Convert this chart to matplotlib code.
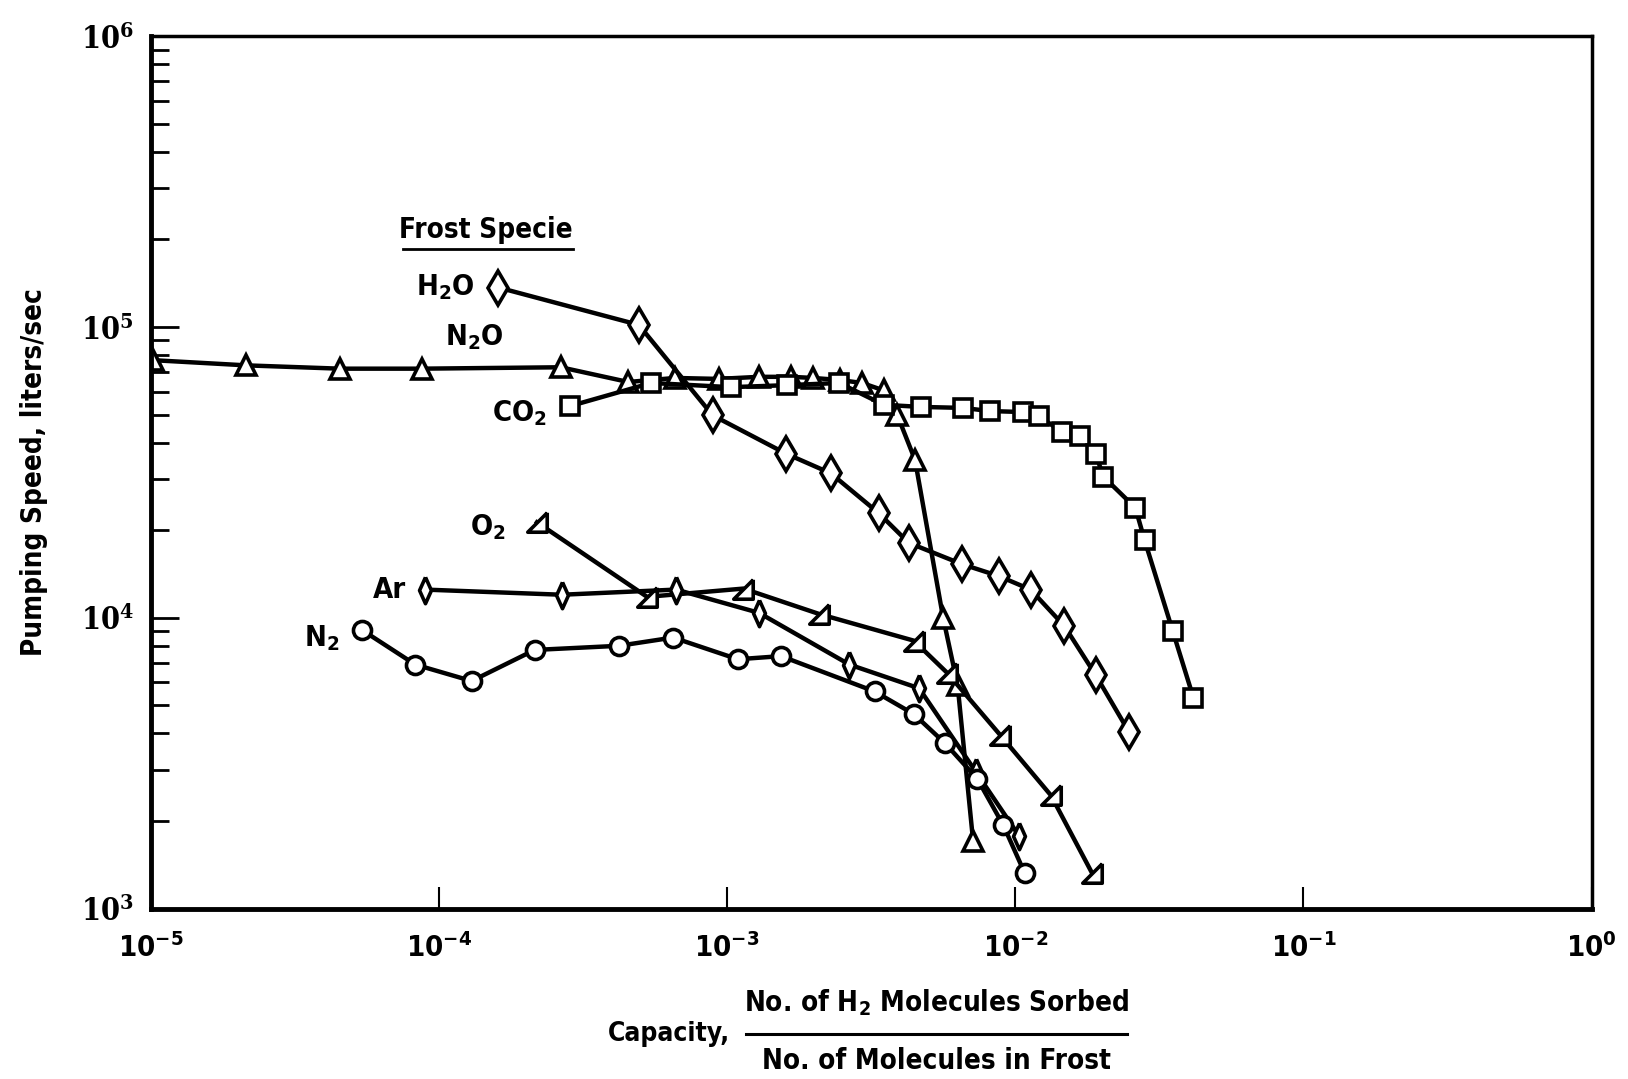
import matplotlib
matplotlib.use("Agg")
import matplotlib.pyplot as plt
from matplotlib.ticker import LogLocator, NullFormatter, FixedLocator, FixedFormatter

plt.rcParams['font.family'] = ['DejaVu Sans']
plt.rcParams['font.stretch'] = 'condensed'
plt.rcParams['font.weight'] = 'bold'
plt.rcParams['mathtext.default'] = 'regular'

# capacity (x) and pumping speed in liters/sec (y)
n2o_x = [1.02e-5, 2.15e-5, 4.53e-5, 8.72e-5, 2.65e-4, 4.54e-4, 6.6e-4, 9.35e-4, 1.29e-3,
         1.67e-3, 1.99e-3, 2.47e-3, 2.94e-3, 3.5e-3, 3.9e-3, 4.49e-3, 5.62e-3, 6.31e-3, 7.14e-3]
n2o_y = [76900, 73800, 71900, 71900, 72700, 64700, 66800, 66300, 67400,
         67400, 66800, 65700, 64200, 60500, 49700, 34900, 10000, 5860, 1710]

co2_x = [2.86e-4, 5.46e-4, 1.03e-3, 1.62e-3, 2.45e-3, 3.5e-3, 4.72e-3, 6.58e-3, 8.16e-3, 1.06e-2,
         1.21e-2, 1.45e-2, 1.68e-2, 1.9e-2, 2.02e-2, 2.61e-2, 2.81e-2, 3.52e-2, 4.15e-2]
co2_y = [53500, 64200, 62100, 63100, 64200, 54000, 53100, 52700, 51400, 51000,
         49300, 43600, 42200, 36700, 30600, 23900, 18500, 8990, 5310]

h2o_x = [1.61e-4, 4.94e-4, 8.91e-4, 1.60e-3, 2.29e-3, 3.36e-3, 4.27e-3, 6.52e-3, 8.79e-3,
         1.13e-2, 1.48e-2, 1.9e-2, 2.48e-2]
h2o_y = [136700, 101700, 49700, 36700, 31400, 22900, 18100, 15300, 13900,
         12500, 9370, 6360, 4050]

o2_x = [2.19e-4, 5.28e-4, 1.14e-3, 2.09e-3, 4.45e-3, 5.8e-3, 8.87e-3, 1.33e-2, 1.85e-2]
o2_y = [21300, 11800, 12600, 10300, 8340, 6470, 3950, 2450, 1320]

ar_x = [8.94e-5, 2.67e-4, 6.66e-4, 1.29e-3, 2.66e-3, 4.64e-3, 7.3e-3, 1.03e-2]
ar_y = [12500, 12000, 12500, 10400, 6900, 5720, 2950, 1780]

n2_x = [5.43e-5, 8.29e-5, 1.3e-4, 2.15e-4, 4.22e-4, 6.5e-4, 1.09e-3, 1.54e-3, 3.25e-3,
        4.45e-3, 5.71e-3, 7.39e-3, 9.1e-3, 1.08e-2]
n2_y = [9060, 6900, 6060, 7750, 8010, 8550, 7200, 7380, 5580,
        4660, 3700, 2790, 1930, 1320]

x_ticks = [1e-5, 1e-4, 1e-3, 1e-2, 1e-1, 1e0]
x_labels = ['$10^{-5}$', '$10^{-4}$', '$10^{-3}$', '$10^{-2}$', '$10^{-1}$', '$10^{0}$']
y_ticks = [1e3, 1e4, 1e5, 1e6]
y_labels = ['$10^{3}$', '$10^{4}$', '$10^{5}$', '$10^{6}$']

o2_marker = [(1, 1), (1, -1), (-1, -1), (1, 1)]
ar_marker = [(0, 1), (0.45, 0), (0, -1), (-0.45, 0), (0, 1)]

fig = plt.figure(figsize=(16.28, 10.79), dpi=100)
ax = fig.add_axes([0.0925, 0.158, 0.8852, 0.8084])

style = dict(color='black', lw=3.2, mfc='white', mec='black', mew=2.6)
ax.plot(n2o_x, n2o_y, marker='^', ms=15, **style)
ax.plot(co2_x, co2_y, marker='s', ms=13, **style)
ax.plot(h2o_x, h2o_y, marker='d', ms=17, **style)
ax.plot(o2_x, o2_y, marker=o2_marker, ms=14, **style)
ax.plot(ar_x, ar_y, marker=ar_marker, ms=19, **style)
ax.plot(n2_x, n2_y, marker='o', ms=13, **style)

ax.set_xscale('log')
ax.set_yscale('log')
ax.set_xlim(1e-5, 1e0)
ax.set_ylim(1e3, 1e6)

ax.xaxis.set_major_locator(FixedLocator(x_ticks))
ax.xaxis.set_major_formatter(FixedFormatter(x_labels))
ax.xaxis.set_minor_locator(FixedLocator([]))
ax.yaxis.set_major_locator(FixedLocator(y_ticks))
ax.yaxis.set_major_formatter(FixedFormatter(y_labels))
ax.yaxis.set_minor_locator(LogLocator(base=10, subs=range(2, 10)))
ax.yaxis.set_minor_formatter(NullFormatter())

ax.tick_params(axis='x', which='major', direction='in', length=16, width=1.5,
               labelsize=21, pad=18)
ax.tick_params(axis='y', which='major', direction='in', length=20, width=2,
               labelsize=22, pad=12)
ax.tick_params(axis='y', which='minor', direction='in', length=13, width=2)
for s in ax.spines.values():
    s.set_linewidth(2.5)
ax.spines['left'].set_linewidth(3.5)
ax.spines['bottom'].set_linewidth(3.5)
for lab in ax.get_yticklabels():
    lab.set_fontweight('bold')
    lab.set_family(['DejaVu Serif'])

ax.set_ylabel('Pumping Speed, liters/sec', fontsize=20, fontweight='bold', labelpad=24)

# species labels
lab_kw = dict(fontsize=21, ha='center', va='center')
ax.text(1.46e-4, 2.15e5, 'Frost Specie', fontsize=20, ha='center', va='center')
ax.plot([7.5e-5, 2.93e-4], [1.85e5, 1.85e5], color='black', lw=2, clip_on=False)
ax.text(1.05e-4, 1.37e5, 'H$_2$O', **lab_kw)
ax.text(1.33e-4, 0.92e5, 'N$_2$O', **lab_kw)
ax.text(1.9e-4, 0.505e5, 'CO$_2$', **lab_kw)
ax.text(1.48e-4, 2.05e4, 'O$_2$', **lab_kw)
ax.text(6.75e-5, 1.25e4, 'Ar', **lab_kw)
ax.text(3.94e-5, 8.5e3, 'N$_2$', **lab_kw)

# x label as a fraction
fig.text(0.411, 0.042, 'Capacity,', fontsize=19, ha='center', va='center')
fig.text(0.575, 0.071, 'No. of H$_2$ Molecules Sorbed', fontsize=20, ha='center', va='center')
fig.text(0.575, 0.017, 'No. of Molecules in Frost', fontsize=20, ha='center', va='center')
fig.add_artist(plt.Line2D([0.458, 0.692], [0.042, 0.042], color='black', lw=2.2))

fig.savefig('out.png', dpi=100)
